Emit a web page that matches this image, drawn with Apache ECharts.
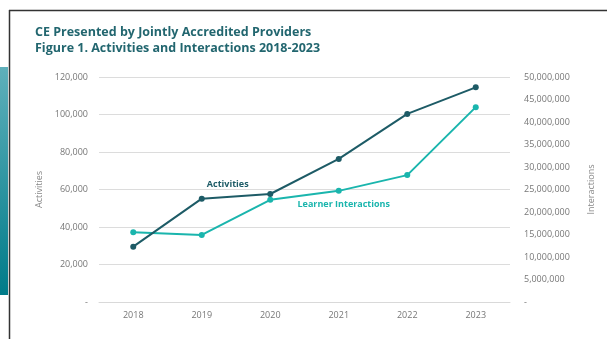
<!DOCTYPE html>
<html>
<head>
<meta charset="utf-8">
<script src="https://cdn.jsdelivr.net/npm/echarts@6/dist/echarts.min.js"></script>
<style>
  html, body { margin: 0; padding: 0; background: #fff; }
  #chart { width: 607px; height: 339px; }
</style>
</head>
<body>
<div id="chart"></div>
<script>
// Years on the category axis
const years = ['2018', '2019', '2020', '2021', '2022', '2023'];
// Number of activities (left axis)
const activities = [29500, 55100, 57600, 76300, 100300, 114500];
// Learner interactions (right axis)
const interactions = [15500000, 14900000, 22700000, 24700000, 28200000, 43300000];

const titleLines = ['CE Presented by Jointly Accredited Providers',
                    'Figure 1. Activities and Interactions 2018-2023'];

const DARK = '#1d5b66';
const TEAL = '#1ab5ad';
const FONT = 'Open Sans';

const fmt = v => v === 0 ? '-' : v.toLocaleString('en-US');

const chart = echarts.init(document.getElementById('chart'));
chart.setOption({
  animation: false,
  textStyle: { fontFamily: FONT },
  title: {
    text: titleLines.join('\n'),
    left: 35, top: 25, padding: 0,
    textStyle: { color: '#22666f', fontSize: 12.5, fontWeight: 'bold', lineHeight: 15.5, fontFamily: FONT }
  },
  graphic: [
    {
      type: 'rect', shape: { x: 0, y: 67, width: 8, height: 228 },
      style: { fill: new echarts.graphic.LinearGradient(0, 0, 0, 1, [
        { offset: 0, color: '#5fb0bb' }, { offset: 1, color: '#007b89' }]) }
    },
    { type: 'line', shape: { x1: 9.5, y1: 10, x2: 9.5, y2: 339 }, style: { stroke: '#333', lineWidth: 1.5 } },
    { type: 'line', shape: { x1: 9, y1: 10.5, x2: 607, y2: 10.5 }, style: { stroke: '#333', lineWidth: 1.5 } }
  ],
  grid: { left: 99, right: 97, top: 77, bottom: 37 },
  xAxis: {
    type: 'category', data: years, boundaryGap: true,
    axisLine: { show: true, lineStyle: { color: '#d9d9d9' } },
    axisTick: { show: false },
    axisLabel: { color: '#777', fontSize: 9, margin: 9, fontFamily: FONT }
  },
  yAxis: [
    {
      type: 'value', min: 0, max: 120000, interval: 20000,
      name: 'Activities', nameLocation: 'middle', nameGap: 55, nameRotate: 90,
      nameTextStyle: { color: '#888', fontSize: 9, fontFamily: FONT },
      axisLine: { show: false }, axisTick: { show: false },
      axisLabel: { color: '#777', fontSize: 9, margin: 11, formatter: fmt, fontFamily: FONT },
      splitLine: { lineStyle: { color: '#dcdcdc', width: 1 } }
    },
    {
      type: 'value', min: 0, max: 50000000, interval: 5000000,
      name: 'Interactions', nameLocation: 'middle', nameGap: 77, nameRotate: 90,
      nameTextStyle: { color: '#888', fontSize: 9, fontFamily: FONT },
      axisLine: { show: false }, axisTick: { show: false },
      axisLabel: { color: '#777', fontSize: 9, margin: 14, formatter: fmt, fontFamily: FONT },
      splitLine: { show: false }
    }
  ],
  series: [
    {
      name: 'Activities', type: 'line', yAxisIndex: 0,
      data: activities.map((v, i) => i === 1 ? {
        value: v,
        label: { show: true, formatter: 'Activities', position: 'top', offset: [26, -2],
                 color: DARK, fontWeight: 'bold', fontSize: 9, fontFamily: FONT }
      } : v),
      symbol: 'circle', symbolSize: 6,
      lineStyle: { color: DARK, width: 2 }, itemStyle: { color: DARK },
      z: 3
    },
    {
      name: 'Learner Interactions', type: 'line', yAxisIndex: 1,
      data: interactions.map((v, i) => i === 3 ? {
        value: v,
        label: { show: true, formatter: 'Learner Interactions', position: 'bottom', offset: [5, 1],
                 color: TEAL, fontWeight: 'bold', fontSize: 9, fontFamily: FONT }
      } : v),
      symbol: 'circle', symbolSize: 6,
      lineStyle: { color: TEAL, width: 2 }, itemStyle: { color: TEAL },
      z: 2
    }
  ]
});
</script>
</body>
</html>
